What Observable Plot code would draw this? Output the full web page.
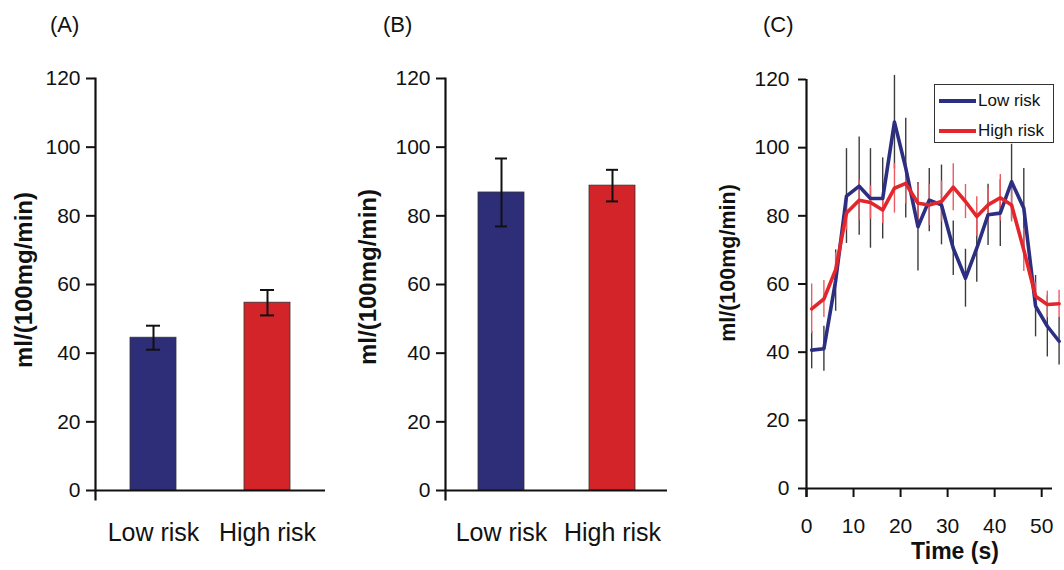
<!DOCTYPE html>
<html>
<head>
<meta charset="utf-8">
<script src="https://cdn.jsdelivr.net/npm/d3@7"></script>
<script src="https://cdn.jsdelivr.net/npm/@observablehq/plot@0.6"></script>
<style>
  html, body { margin: 0; padding: 0; background: #fff; }
  #root { position: relative; width: 1064px; height: 570px; overflow: hidden; font-family: "Liberation Sans", Arial, sans-serif; color: #111; }
  .panel { position: absolute; top: 0; }
  .ptitle { position: absolute; font-size: 22px; line-height: 1; }
  .ylab { position: absolute; font-size: 24px; font-weight: bold; white-space: nowrap; transform: translate(-50%, -50%) rotate(-90deg); line-height: 1; }
  .xlab { position: absolute; font-size: 23px; font-weight: bold; white-space: nowrap; transform: translate(-50%, -50%); line-height: 1; }
  #legend { position: absolute; left: 934px; top: 84px; width: 118px; height: 57px; border: 1.5px solid #333; background: #fff; }
  #legend .sw { position: absolute; left: 4px; width: 37px; height: 3.5px; }
  #legend .lt { position: absolute; left: 43px; font-size: 17px; line-height: 1; }
</style>
</head>
<body>
<div id="root"></div>
<script>
// ---- data ----
const categories = ["Low risk", "High risk"];
const meanA = [44.5, 54.7];
const errA = [3.5, 3.7];
const meanB = [86.8, 88.8];
const errB = [9.9, 4.6];

const timeC = [1.1, 3.7, 6.2, 8.5, 11.2, 13.6, 16.2, 18.7, 21.1, 23.7, 26.1, 28.7, 31.2, 33.8, 36.2, 38.6, 41.2, 43.6, 46.2, 48.7, 51.2, 53.7];
const lowC = [40.6, 41.0, 61.0, 85.8, 88.7, 85.1, 85.1, 107.5, 94.0, 76.8, 84.6, 83.2, 70.5, 61.7, 70.5, 80.3, 80.8, 90.0, 82.2, 53.5, 47.6, 43.2];
const lowErrC = [5.5, 6.6, 9.0, 13.9, 14.4, 14.6, 11.9, 13.7, 14.6, 13.0, 9.3, 11.7, 8.0, 8.5, 10.0, 9.0, 9.8, 11.0, 11.7, 9.0, 9.0, 7.0];
const highC = [52.7, 55.6, 64.2, 80.8, 84.6, 83.9, 81.7, 88.1, 89.5, 83.7, 83.2, 84.2, 88.4, 84.2, 79.8, 83.2, 85.3, 83.2, 70.0, 56.4, 54.0, 54.2];
const highErrC = [7.3, 5.4, 5.0, 5.0, 5.9, 4.9, 4.0, 7.3, 6.0, 5.6, 6.0, 6.0, 6.9, 5.0, 5.8, 5.0, 6.8, 5.0, 6.3, 4.0, 3.9, 4.0];

const yTicks = [0, 20, 40, 60, 80, 100, 120];
const xTicksC = [0, 10, 20, 30, 40, 50];
const yLabel = "ml/(100mg/min)";
const xLabelC = "Time (s)";
const panelTitles = ["(A)", "(B)", "(C)"];

// ---- styles ----
const barBlue = "#2e2d78";
const barRed = "#d3242a";
const lineBlue = "#2c2e82";
const lineRed = "#e2262c";
const errGray = "#3c3c3c";
const errRed = "#ec5a62";
const font = "'Liberation Sans', Arial, sans-serif";

const root = document.getElementById("root");

function barPanel(means, errs, opt) {
  const rows = categories.map((c, i) => ({cat: c, mean: means[i], lo: means[i] - errs[i], hi: means[i] + errs[i]}));
  return Plot.plot({
    width: opt.width, height: 570,
    marginLeft: opt.ml, marginRight: opt.mr, marginTop: 78, marginBottom: 80,
    style: {fontFamily: font, background: "transparent", color: "#111", overflow: "visible"},
    x: {domain: categories, paddingInner: opt.pi, paddingOuter: opt.po, label: null},
    y: {domain: [0, 120], label: null},
    color: {domain: categories, range: [barBlue, barRed]},
    marks: [
      Plot.barY(rows, {x: "cat", y: "mean", fill: "cat", stroke: "#333", strokeWidth: 0.8}),
      Plot.ruleX(rows, {x: "cat", y1: "lo", y2: "hi", stroke: "#111", strokeWidth: 2}),
      Plot.tickY(rows, {x: "cat", y: "lo", stroke: "#111", strokeWidth: 2, insetLeft: opt.cap, insetRight: opt.cap}),
      Plot.tickY(rows, {x: "cat", y: "hi", stroke: "#111", strokeWidth: 2, insetLeft: opt.cap, insetRight: opt.cap}),
      Plot.ruleY([0], {stroke: "#111", strokeWidth: 2.2}),
      Plot.frame({anchor: "left", stroke: "#111", strokeWidth: 2.2, insetBottom: -9}),
      Plot.axisY({ticks: yTicks, tickSize: 9, tickPadding: 6, fontSize: 21, strokeWidth: 2, label: null, tickFormat: d => d}),
      Plot.axisX({tickSize: 0, tickPadding: 33, fontSize: 25, label: null})
    ]
  });
}

function addAt(node, left) {
  const d = document.createElement("div");
  d.className = "panel";
  d.style.left = left + "px";
  d.appendChild(node);
  root.appendChild(d);
}

addAt(barPanel(meanA, errA, {width: 345, ml: 95, mr: 20, pi: 0.594, po: 0.301, cap: 16}), 0);
addAt(barPanel(meanB, errB, {width: 345, ml: 100, mr: 23, pi: 0.589, po: 0.2945, cap: 17}), 345);

// Panel C
const rowsC = timeC.map((t, i) => ({
  t, low: lowC[i], lowLo: lowC[i] - lowErrC[i], lowHi: lowC[i] + lowErrC[i],
  high: highC[i], highLo: highC[i] - highErrC[i], highHi: highC[i] + highErrC[i]
}));
const plotC = Plot.plot({
  width: 374, height: 570,
  marginLeft: 116, marginRight: 12, marginTop: 79, marginBottom: 82,
  style: {fontFamily: font, background: "transparent", color: "#111", overflow: "visible"},
  x: {domain: [0, 52.3], label: null},
  y: {domain: [0, 120], label: null},
  marks: [
    Plot.ruleX(rowsC, {x: "t", y1: "lowLo", y2: "lowHi", stroke: errGray, strokeWidth: 1.4}),
    Plot.ruleX(rowsC, {x: "t", y1: "highLo", y2: "highHi", stroke: errRed, strokeWidth: 1.4}),
    Plot.line(rowsC, {x: "t", y: "low", stroke: lineBlue, strokeWidth: 3.6}),
    Plot.line(rowsC, {x: "t", y: "high", stroke: lineRed, strokeWidth: 3.6}),
    Plot.ruleY([0], {stroke: "#111", strokeWidth: 2.2}),
    Plot.ruleX([0], {stroke: "#111", strokeWidth: 2.2, insetBottom: -9}),
    Plot.axisY({ticks: yTicks, tickSize: 8, tickPadding: 9, fontSize: 21, strokeWidth: 2, label: null, tickFormat: d => d}),
    Plot.axisX({ticks: xTicksC, tickSize: 9, tickPadding: 21, fontSize: 21, strokeWidth: 2, label: null, tickFormat: d => d})
  ]
});
addAt(plotC, 690);

// Titles and labels
function addText(cls, text, left, top, size) {
  const d = document.createElement("div");
  d.className = cls;
  d.textContent = text;
  d.style.left = left + "px";
  d.style.top = top + "px";
  if (size) d.style.fontSize = size + "px";
  root.appendChild(d);
  return d;
}
addText("ptitle", panelTitles[0], 50, 14);
addText("ptitle", panelTitles[1], 383, 14);
addText("ptitle", panelTitles[2], 763, 14);
addText("ylab", yLabel, 24, 280);
addText("ylab", yLabel, 368, 277);
addText("ylab", yLabel, 729, 263, 21.5);
addText("xlab", xLabelC, 955, 551);

// Legend
const legend = document.createElement("div");
legend.id = "legend";
[["Low risk", lineBlue, 14], ["High risk", lineRed, 44]].forEach(([name, col, y]) => {
  const sw = document.createElement("div");
  sw.className = "sw";
  sw.style.background = col;
  sw.style.top = y + "px";
  legend.appendChild(sw);
  const lt = document.createElement("div");
  lt.className = "lt";
  lt.textContent = name;
  lt.style.top = (y - 7) + "px";
  legend.appendChild(lt);
});
root.appendChild(legend);
</script>
</body>
</html>
